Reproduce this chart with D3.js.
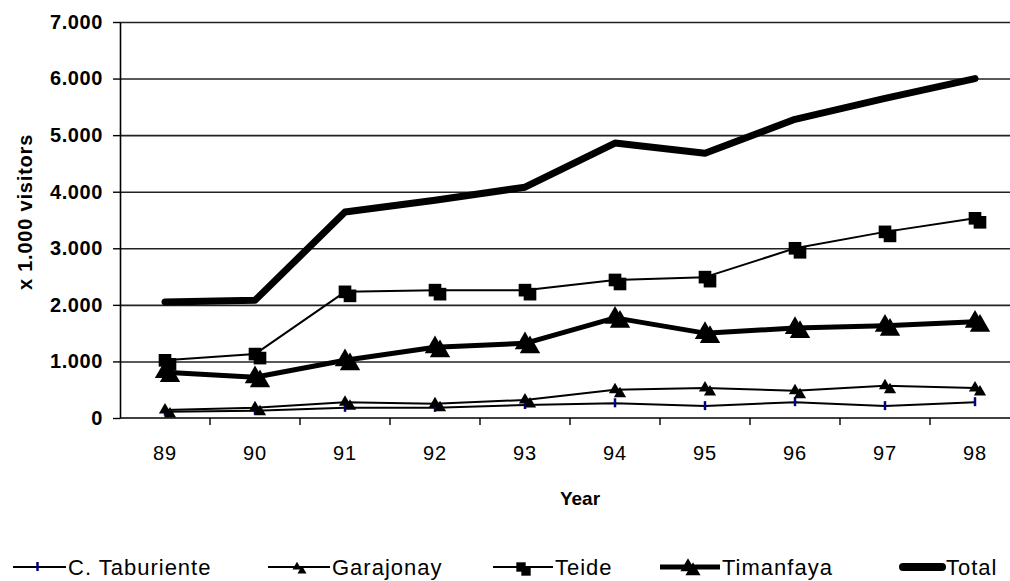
<!DOCTYPE html>
<html>
<head>
<meta charset="utf-8">
<script src="https://cdn.jsdelivr.net/npm/d3@7"></script>
<style>
  body { margin: 0; background: #fff; }
  svg { display: block; font-family: "Liberation Sans", Arial, sans-serif; }
</style>
</head>
<body>
<div id="chart"></div>
<script>
// Data (x 1.000 visitors)
const years = ["89", "90", "91", "92", "93", "94", "95", "96", "97", "98"];
const taburiente = [110, 130, 180, 180, 230, 260, 210, 280, 210, 280];
const garajonay = [140, 180, 280, 250, 320, 500, 530, 480, 570, 530];
const teide = [1020, 1130, 2230, 2260, 2260, 2440, 2490, 3000, 3290, 3530];
const timanfaya = [810, 720, 1020, 1250, 1320, 1770, 1500, 1590, 1630, 1700];
const total = [2050, 2080, 3640, 3850, 4080, 4860, 4680, 5280, 5650, 6000];
const yTicks = [0, 1000, 2000, 3000, 4000, 5000, 6000, 7000];

const width = 1010, height = 581;
const plotLeft = 120, plotRight = 1020, plotTop = 22, plotBottom = 418;

const svg = d3.select("#chart")
    .append("svg")
    .attr("width", width)
    .attr("height", height);

const x = d3.scaleBand().domain(years).range([plotLeft, plotRight]);
const y = d3.scaleLinear().domain([0, 7000]).range([plotBottom, plotTop]);
const cx = d => x(d) + x.bandwidth() / 2;

// Gridlines
svg.append("g")
    .attr("transform", `translate(${plotLeft},0)`)
    .call(d3.axisLeft(y).tickValues(yTicks.slice(1)).tickSize(-(width - plotLeft)).tickFormat(""))
    .call(g => g.select(".domain").remove())
    .call(g => g.selectAll("line").attr("stroke", "#222").attr("stroke-width", 1.6));

// Y axis
const fmt = d => d === 0 ? "0" : d3.format(",")(d).replace(",", ".");
svg.append("g")
    .attr("transform", `translate(${plotLeft},0)`)
    .call(d3.axisLeft(y).tickValues(yTicks).tickSize(7).tickPadding(10).tickFormat(fmt).tickSizeOuter(0))
    .call(g => g.select(".domain").attr("stroke", "#000").attr("stroke-width", 1.6))
    .call(g => g.selectAll("line").attr("stroke", "#000").attr("stroke-width", 1.4))
    .call(g => g.selectAll("text")
        .attr("fill", "#000")
        .style("font-size", "20px")
        .style("font-weight", "bold")
        .style("letter-spacing", "0.6px"));

// X axis: labels in band centres, ticks at band edges
const xAxis = svg.append("g").attr("transform", `translate(0,${plotBottom})`);
xAxis.append("line")
    .attr("x1", plotLeft).attr("x2", width)
    .attr("stroke", "#000").attr("stroke-width", 1.6);
xAxis.selectAll(".edge")
    .data(years.slice(1))
    .enter()
    .append("line")
    .attr("class", "edge")
    .attr("x1", d => x(d)).attr("x2", d => x(d))
    .attr("y1", 0).attr("y2", 7)
    .attr("stroke", "#000").attr("stroke-width", 1.4);
xAxis.selectAll(".lab")
    .data(years)
    .enter()
    .append("text")
    .attr("class", "lab")
    .attr("x", cx)
    .attr("y", 42)
    .attr("text-anchor", "middle")
    .style("font-size", "20px")
    .style("letter-spacing", "0.8px")
    .text(d => d);

// Axis titles
svg.append("text")
    .attr("x", (plotLeft + plotRight) / 2 + 10)
    .attr("y", 505)
    .attr("text-anchor", "middle")
    .style("font-size", "19px")
    .style("font-weight", "bold")
    .text("Year");

svg.append("text")
    .attr("transform", "translate(32,212) rotate(-90)")
    .attr("text-anchor", "middle")
    .style("font-size", "20px")
    .style("font-weight", "bold")
    .style("letter-spacing", "0.8px")
    .text("x 1.000 visitors");

// Series
const series = [
    { name: "C. Taburiente", values: taburiente, width: 2, marker: "dash", size: 0 },
    { name: "Garajonay", values: garajonay, width: 2, marker: "triangle", size: 64 },
    { name: "Teide", values: teide, width: 2, marker: "square", size: 160 },
    { name: "Timanfaya", values: timanfaya, width: 5, marker: "triangle", size: 180 },
    { name: "Total", values: total, width: 7, marker: null, size: 0 }
];

const line = d3.line().x((d, i) => cx(years[i])).y(d => y(d));

function drawMarker(g, s, px, py) {
    if (s.marker === "dash") {
        g.append("line")
            .attr("x1", px).attr("x2", px)
            .attr("y1", py - 5).attr("y2", py + 4)
            .attr("stroke", "#000080").attr("stroke-width", 2.5);
    } else if (s.marker) {
        const sym = d3.symbol()
            .type(s.marker === "square" ? d3.symbolSquare : d3.symbolTriangle)
            .size(s.size);
        // shadow then marker
        g.append("path").attr("d", sym()).attr("transform", `translate(${px + 5},${py + 4})`).attr("fill", "#000");
        g.append("path").attr("d", sym()).attr("transform", `translate(${px},${py})`).attr("fill", "#000");
    }
}

series.forEach(s => {
    const g = svg.append("g");
    g.append("path")
        .datum(s.values)
        .attr("d", line)
        .attr("fill", "none")
        .attr("stroke", "#000")
        .attr("stroke-width", s.width)
        .attr("stroke-linejoin", "round")
        .attr("stroke-linecap", s.name === "Total" ? "round" : "butt");
    s.values.forEach((v, i) => drawMarker(g, s, cx(years[i]), y(v)));
});

// Legend: line sample directly followed by the name
const legendPos = [
    { x1: 13, x2: 66 },
    { x1: 268, x2: 330 },
    { x1: 493, x2: 553 },
    { x1: 660, x2: 720 },
    { x1: 903, x2: 942 }
];
const legendY = 567;
series.forEach((s, i) => {
    const p = legendPos[i];
    const g = svg.append("g").attr("transform", `translate(0,${legendY})`);
    g.append("line")
        .attr("x1", p.x1).attr("x2", p.x2)
        .attr("stroke", "#000")
        .attr("stroke-width", s.name === "Total" ? 8 : s.width)
        .attr("stroke-linecap", s.name === "Total" ? "round" : "butt");
    drawMarker(g, Object.assign({}, s, { size: s.size * 0.55 }), (p.x1 + p.x2) / 2 - 2, 0);
    g.append("text")
        .attr("x", p.x2 + (s.name === "Total" ? 4 : 2))
        .attr("y", 8)
        .style("font-size", "22px")
        .style("letter-spacing", "1px")
        .text(s.name);
});
</script>
</body>
</html>
